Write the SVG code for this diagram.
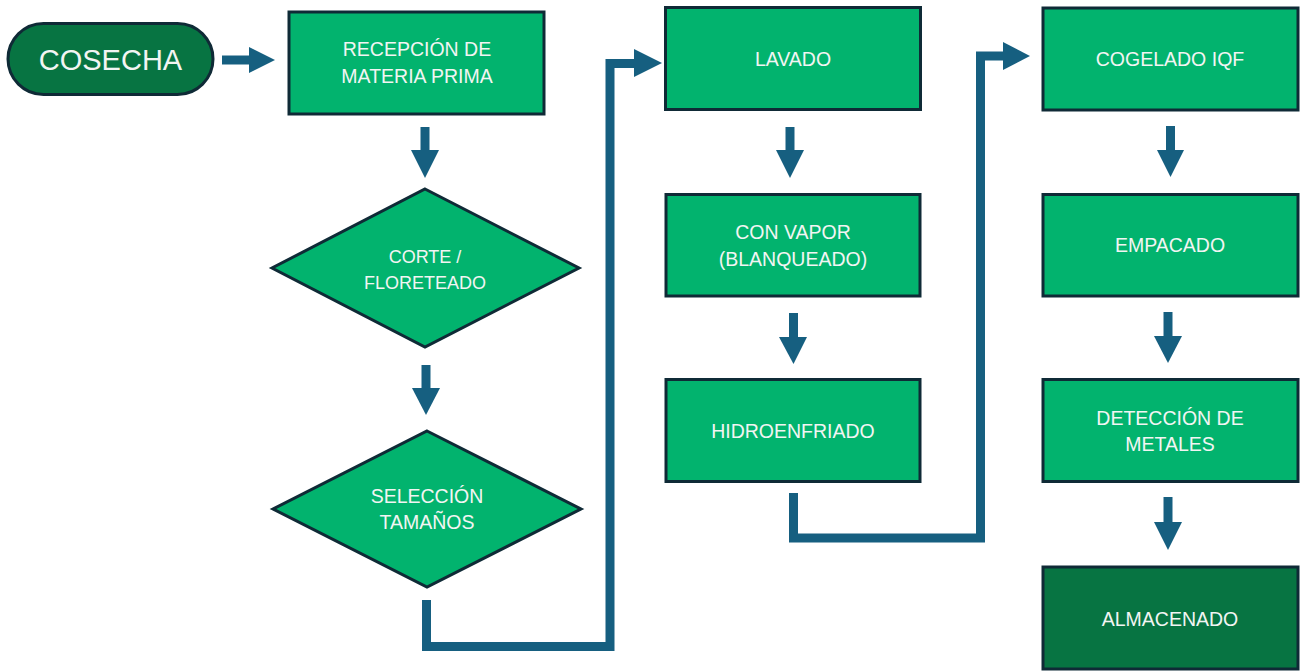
<svg xmlns="http://www.w3.org/2000/svg" width="1307" height="671" viewBox="0 0 1307 671">
<style>
.box{fill:#02b36e;stroke:#0f2a36;stroke-width:3}
.dark{fill:#077442;stroke:#0f2a36;stroke-width:3}
.t{font-family:"Liberation Sans",Arial,sans-serif;font-size:19.5px;fill:#f2f5f3;text-anchor:middle}
.conn{fill:none;stroke:#165f80;stroke-width:9;stroke-linejoin:miter}
.head{fill:#165f80}
</style>
<rect width="1307" height="671" fill="#ffffff"/>
<g id="connectors">
  <!-- COSECHA -> RECEPCION -->
  <path class="conn" d="M222 60 H250"/>
  <polygon class="head" points="249,47 275,60 249,73"/>
  <!-- down arrows -->
  <path class="conn" d="M425 127 V151"/>
  <polygon class="head" points="411,150 439,150 425,178"/>
  <path class="conn" d="M426 365 V389"/>
  <polygon class="head" points="412,388 440,388 426,415"/>
  <path class="conn" d="M426.5 600 V646.5 H610 V63.5 H635"/>
  <polygon class="head" points="634,49 662,63 634,77"/>
  <path class="conn" d="M790 127 V151"/>
  <polygon class="head" points="776,150 804,150 790,178"/>
  <path class="conn" d="M793.5 313 V338"/>
  <polygon class="head" points="779,337 807,337 793.5,364"/>
  <path class="conn" d="M793.5 493 V538 H980.5 V56 H1004"/>
  <polygon class="head" points="1003,42 1030,56 1003,70"/>
  <path class="conn" d="M1170.5 126 V151"/>
  <polygon class="head" points="1157,150 1184,150 1170.5,177"/>
  <path class="conn" d="M1168 312 V337"/>
  <polygon class="head" points="1154,336 1182,336 1168,363"/>
  <path class="conn" d="M1168 497 V523"/>
  <polygon class="head" points="1154,522 1182,522 1168,550"/>
</g>
<g id="cosecha">
  <rect class="dark" x="8" y="23.5" width="205" height="71" rx="35.5"/>
  <text class="t" x="110.5" y="69.5" style="font-size:29px">COSECHA</text>
</g>
<g id="recepcion">
  <rect class="box" x="289" y="12" width="255" height="102"/>
  <text class="t" x="417" y="56">RECEPCIÓN DE</text>
  <text class="t" x="417" y="83">MATERIA PRIMA</text>
</g>
<g id="corte">
  <polygon class="box" points="425,189 579,268 425,347 272,268"/>
  <text class="t" x="425" y="263" style="font-size:18px">CORTE /</text>
  <text class="t" x="425" y="289" style="font-size:18px">FLORETEADO</text>
</g>
<g id="seleccion">
  <polygon class="box" points="427,431 581,509 427,587 273,509"/>
  <text class="t" x="427" y="503">SELECCIÓN</text>
  <text class="t" x="427" y="529">TAMAÑOS</text>
</g>
<g id="lavado">
  <rect class="box" x="665.5" y="7.5" width="255" height="102"/>
  <text class="t" x="793" y="66">LAVADO</text>
</g>
<g id="vapor">
  <rect class="box" x="666" y="194.5" width="254" height="101.5"/>
  <text class="t" x="793" y="239">CON VAPOR</text>
  <text class="t" x="793" y="266">(BLANQUEADO)</text>
</g>
<g id="hidroenfriado">
  <rect class="box" x="666" y="379.5" width="254" height="102"/>
  <text class="t" x="793" y="438">HIDROENFRIADO</text>
</g>
<g id="cogelado">
  <rect class="box" x="1043" y="8" width="255" height="102"/>
  <text class="t" x="1170" y="66">COGELADO IQF</text>
</g>
<g id="empacado">
  <rect class="box" x="1043" y="194.5" width="255" height="101.5"/>
  <text class="t" x="1170" y="252">EMPACADO</text>
</g>
<g id="deteccion">
  <rect class="box" x="1043" y="379.5" width="255" height="102"/>
  <text class="t" x="1170" y="425">DETECCIÓN DE</text>
  <text class="t" x="1170" y="451">METALES</text>
</g>
<g id="almacenado">
  <rect class="dark" x="1043" y="567" width="255" height="102"/>
  <text class="t" x="1170" y="626">ALMACENADO</text>
</g>
</svg>
